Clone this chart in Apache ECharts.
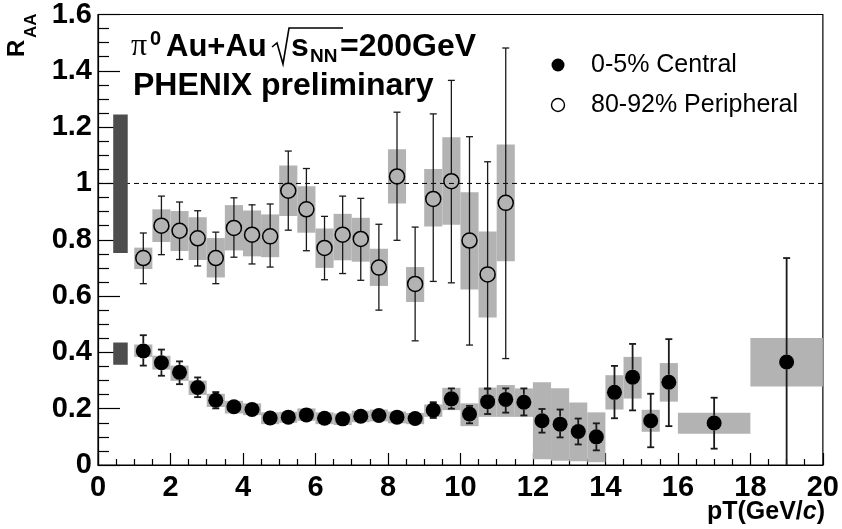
<!DOCTYPE html>
<html><head><meta charset="utf-8">
<script src="https://cdn.jsdelivr.net/npm/echarts@6/dist/echarts.min.js"></script>
<style>html,body{margin:0;padding:0;background:#fff}#c{width:842px;height:529px}</style>
</head><body><div id="c"></div>
<script>
// ---- Central 0-5% ----
const centralPt   = [1.25,1.75,2.25,2.75,3.25,3.75,4.25,4.75,5.25,5.75,6.25,6.75,7.25,7.75,8.25,8.75,9.25,9.75,10.25,10.75,11.25,11.75,12.25,12.75,13.25,13.75,14.25,14.75,15.25,15.75,17,19];
const centralBinLo= [1.0,1.5,2.0,2.5,3.0,3.5,4.0,4.5,5.0,5.5,6.0,6.5,7.0,7.5,8.0,8.5,9.0,9.5,10.0,10.5,11.0,11.5,12.0,12.5,13.0,13.5,14.0,14.5,15.0,15.5,16,18];
const centralBinHi= [1.5,2.0,2.5,3.0,3.5,4.0,4.5,5.0,5.5,6.0,6.5,7.0,7.5,8.0,8.5,9.0,9.5,10.0,10.5,11.0,11.5,12.0,12.5,13.0,13.5,14.0,14.5,15.0,15.5,16.0,18,20];
const centralRaa  = [0.405,0.363,0.329,0.275,0.230,0.207,0.197,0.167,0.170,0.178,0.166,0.164,0.173,0.176,0.170,0.165,0.195,0.235,0.181,0.225,0.233,0.223,0.157,0.145,0.119,0.100,0.258,0.312,0.157,0.294,0.149,0.366];
const centralErrLo= [0.353,0.317,0.287,0.241,0.201,0.190,0.182,0.155,0.158,0.166,0.154,0.152,0.161,0.164,0.158,0.153,0.167,0.200,0.148,0.181,0.186,0.176,0.115,0.098,0.073,0.052,0.166,0.194,0.063,0.138,0.058,-0.10];
const centralErrHi= [0.461,0.410,0.368,0.311,0.259,0.224,0.212,0.179,0.182,0.190,0.178,0.176,0.185,0.188,0.182,0.177,0.223,0.272,0.210,0.272,0.272,0.272,0.199,0.197,0.165,0.148,0.352,0.430,0.253,0.447,0.239,0.735];
const centralSysLo= [0.384,0.339,0.299,0.249,0.206,0.183,0.177,0.145,0.150,0.157,0.145,0.142,0.152,0.155,0.148,0.145,0.171,0.195,0.138,0.171,0.171,0.171,0.020,0.015,0.013,0.010,0.197,0.236,0.118,0.225,0.111,0.279];
const centralSysHi= [0.428,0.388,0.353,0.300,0.253,0.228,0.219,0.187,0.189,0.201,0.187,0.183,0.193,0.197,0.190,0.185,0.215,0.274,0.219,0.275,0.284,0.272,0.294,0.273,0.222,0.187,0.319,0.384,0.196,0.362,0.186,0.451];

// ---- Peripheral 80-92% ----
const periPt   = [1.25,1.75,2.25,2.75,3.25,3.75,4.25,4.75,5.25,5.75,6.25,6.75,7.25,7.75,8.25,8.75,9.25,9.75,10.25,10.75,11.25];
const periBinLo= [1.0,1.5,2.0,2.5,3.0,3.5,4.0,4.5,5.0,5.5,6.0,6.5,7.0,7.5,8.0,8.5,9.0,9.5,10.0,10.5,11.0];
const periBinHi= [1.5,2.0,2.5,3.0,3.5,4.0,4.5,5.0,5.5,6.0,6.5,7.0,7.5,8.0,8.5,9.0,9.5,10.0,10.5,11.0,11.5];
const periRaa  = [0.735,0.850,0.832,0.805,0.735,0.842,0.818,0.812,0.974,0.908,0.771,0.818,0.803,0.701,1.025,0.643,0.945,1.008,0.797,0.677,0.931];
const periErrLo= [0.644,0.747,0.730,0.707,0.644,0.738,0.714,0.703,0.834,0.761,0.658,0.680,0.656,0.550,0.798,0.441,0.652,0.647,0.426,0.270,0.378];
const periErrHi= [0.824,0.955,0.934,0.903,0.827,0.949,0.924,0.927,1.115,1.053,0.883,0.955,0.947,0.855,1.253,0.845,1.247,1.366,1.166,1.077,1.481];
const periSysLo= [0.696,0.792,0.760,0.728,0.666,0.762,0.741,0.738,0.884,0.825,0.700,0.727,0.722,0.636,0.929,0.579,0.847,0.853,0.623,0.524,0.724];
const periSysHi= [0.772,0.908,0.902,0.880,0.806,0.923,0.904,0.890,1.064,0.990,0.840,0.892,0.878,0.768,1.121,0.703,1.051,1.164,0.969,0.829,1.138];

// ---- Normalization uncertainty boxes ----
const normBoxX   = [0.42, 0.82];
const normPeri   = [0.753, 1.245];
const normCentral= [0.356, 0.435];

// ---- Reference line, axis ----
const refLineX = [0, 20];
const refLineY = [1, 1];
const xRange = [0, 20], xStep = 2;
const yRange = [0, 1.6], yStep = 0.2;
const labelCentral = '0-5% Central';
const labelPeri = '80-92% Peripheral';

const FONT = 'Liberation Sans, Arial, sans-serif';
const chart = echarts.init(document.getElementById('c'));

function zip(...arrs){ return arrs[0].map((_,i)=>arrs.map(a=>a[i])); }

function bandItem(color){
  return function(params, api){
    const p0 = api.coord([api.value(0), api.value(3)]);
    const p1 = api.coord([api.value(1), api.value(2)]);
    const cs = params.coordSys;
    const r = echarts.graphic.clipRectByRect(
      {x:p0[0], y:p0[1], width:p1[0]-p0[0], height:p1[1]-p0[1]},
      {x:cs.x, y:cs.y, width:cs.width, height:cs.height});
    if(!r) return null;
    return {type:'rect', shape:r, style:{fill:color}};
  };
}
function errItem(lw){
  return function(params, api){
    const x=api.value(0), y=api.value(1), lo=api.value(2), hi=api.value(3);
    const c=api.coord([x,y]), t=api.coord([x,hi]), b=api.coord([x,lo]);
    const cs=params.coordSys, top=cs.y, bot=cs.y+cs.height;
    const gap=7.5, cap=3.5;
    const st={stroke:'#1a1a1a', lineWidth:lw};
    const ch=[];
    const tY=Math.max(t[1],top), bY=Math.min(b[1],bot);
    if(c[1]-gap>tY){
      ch.push({type:'line',shape:{x1:c[0],y1:tY,x2:c[0],y2:c[1]-gap},style:st});
      if(t[1]>=top) ch.push({type:'line',shape:{x1:c[0]-cap,y1:t[1],x2:c[0]+cap,y2:t[1]},style:st});
    }
    if(c[1]+gap<bY){
      ch.push({type:'line',shape:{x1:c[0],y1:c[1]+gap,x2:c[0],y2:bY},style:st});
      if(b[1]<=bot) ch.push({type:'line',shape:{x1:c[0]-cap,y1:b[1],x2:c[0]+cap,y2:b[1]},style:st});
    }
    return {type:'group', children:ch};
  };
}

const option = {
  animation:false,
  backgroundColor:'#fff',
  grid:{left:98, right:17, top:13, bottom:64, show:true, borderColor:'#000', borderWidth:1.2, backgroundColor:'transparent'},
  xAxis:{type:'value', min:xRange[0], max:xRange[1], interval:xStep,
    axisLine:{show:true, onZero:false, lineStyle:{color:'#000', width:1.2}},
    axisTick:{show:true, inside:true, length:12, lineStyle:{color:'#000', width:1.2}},
    minorTick:{show:true, splitNumber:4, length:6, lineStyle:{color:'#000', width:1.2}},
    splitLine:{show:false},
    axisLabel:{color:'#000', fontFamily:FONT, fontWeight:'bold', fontSize:29, margin:8}
  },
  yAxis:{type:'value', min:yRange[0], max:yRange[1], interval:yStep,
    axisLine:{show:true, lineStyle:{color:'#000', width:1.2}},
    axisTick:{show:true, inside:true, length:22, lineStyle:{color:'#000', width:1.2}},
    minorTick:{show:true, splitNumber:4, length:11, lineStyle:{color:'#000', width:1.2}},
    splitLine:{show:false},
    axisLabel:{color:'#000', fontFamily:FONT, fontWeight:'bold', fontSize:29, margin:6}
  },
  series:[
    {type:'custom', name:'periSys', renderItem:bandItem('#b3b3b3'), silent:true,
      data:zip(periBinLo, periBinHi, periSysLo, periSysHi), z:1},
    {type:'custom', name:'centralSys', renderItem:bandItem('#b3b3b3'), silent:true,
      data:zip(centralBinLo, centralBinHi, centralSysLo, centralSysHi), z:1},
    {type:'line', name:'ref', data:zip(refLineX, refLineY), symbol:'none', silent:true,
      lineStyle:{color:'#000', width:1, type:[5,4]}, z:2},
    {type:'custom', name:'norm', renderItem:bandItem('#4d4d4d'), silent:true,
      data:[[normBoxX[0], normBoxX[1], normPeri[0], normPeri[1]],
            [normBoxX[0], normBoxX[1], normCentral[0], normCentral[1]]], z:3},
    {type:'custom', name:'periErr', renderItem:errItem(1.3), silent:true,
      data:zip(periPt, periRaa, periErrLo, periErrHi), z:4},
    {type:'custom', name:'centralErr', renderItem:errItem(1.8), silent:true,
      data:zip(centralPt, centralRaa, centralErrLo, centralErrHi), z:4},
    {type:'scatter', name:labelPeri, data:zip(periPt, periRaa), symbol:'circle', symbolSize:15,
      itemStyle:{color:'rgba(0,0,0,0)', borderColor:'#000', borderWidth:1.5, opacity:1}, z:5},
    {type:'scatter', name:labelCentral, data:zip(centralPt, centralRaa), symbol:'circle', symbolSize:15,
      itemStyle:{color:'#000', opacity:1}, z:5}
  ],
  graphic:[
    // title line 1
    {type:'text', x:131, y:63, style:{text:'\u03c0', font:'32px Liberation Serif, serif', fill:'#000', verticalAlign:'bottom'}},
    {type:'text', x:150, y:49, style:{text:'0', font:'bold 20px '+FONT, fill:'#000', verticalAlign:'bottom'}},
    {type:'text', x:166, y:63, style:{text:'Au+Au', font:'bold 31px '+FONT, fill:'#000', verticalAlign:'bottom'}},
    {type:'polyline', shape:{points:[[272,47],[277,43],[283,64],[289,28],[343,28]]}, style:{stroke:'#000', lineWidth:1.6, fill:null}},
    {type:'text', x:291, y:63, style:{text:'s', font:'bold 32px '+FONT, fill:'#000', verticalAlign:'bottom'}},
    {type:'text', x:310, y:66, style:{text:'NN', font:'bold 19px '+FONT, fill:'#000', verticalAlign:'bottom'}},
    {type:'text', x:340, y:63, style:{text:'=200GeV', font:'bold 32px '+FONT, fill:'#000', verticalAlign:'bottom'}},
    // title line 2
    {type:'text', x:133, y:102, style:{text:'PHENIX preliminary', font:'bold 32px '+FONT, fill:'#000', verticalAlign:'bottom'}},
    // legend
    {type:'circle', shape:{cx:558, cy:65, r:6.5}, style:{fill:'#000'}},
    {type:'text', x:591, y:65, style:{text:labelCentral, font:'25px '+FONT, fill:'#000', verticalAlign:'middle'}},
    {type:'circle', shape:{cx:558, cy:105, r:6.5}, style:{fill:'#fff', stroke:'#000', lineWidth:1.4}},
    {type:'text', x:591, y:105, style:{text:labelPeri, font:'25px '+FONT, fill:'#000', verticalAlign:'middle'}},
    // y title
    {type:'text', x:17.5, y:57, rotation:Math.PI/2, style:{text:'R', font:'bold 24px '+FONT, fill:'#000', align:'left', verticalAlign:'middle'}},
    {type:'text', x:31, y:38, rotation:Math.PI/2, style:{text:'AA', font:'bold 17px '+FONT, fill:'#000', align:'left', verticalAlign:'middle'}},
    // x title
    {type:'text', x:825, y:512, style:{
      text:'{b|pT(GeV/}{i|c}{b|)}', align:'right', verticalAlign:'middle',
      rich:{b:{font:'bold 25px '+FONT, fill:'#000'}, i:{font:'italic bold 25px '+FONT, fill:'#000'}}}}
  ]
};
chart.setOption(option);
</script></body></html>
